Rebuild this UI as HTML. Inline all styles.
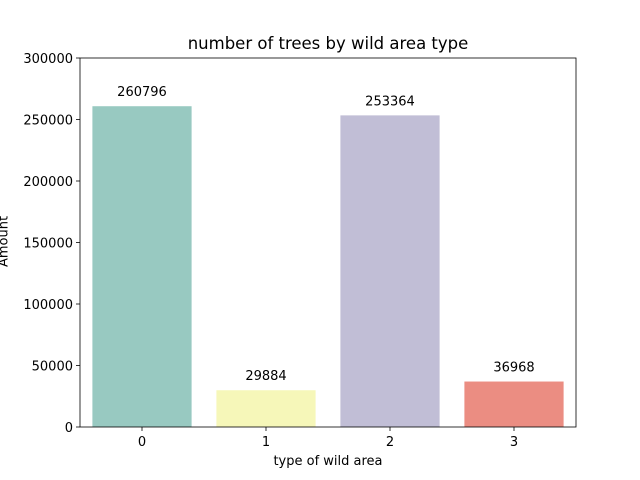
<!DOCTYPE html>
<html><head><meta charset="utf-8"><style>body{margin:0;background:#fff}svg{display:block;font-family:"DejaVu Sans","Liberation Sans",sans-serif}</style></head>
<body>
<svg id="c" width="640" height="480"></svg>
<script>
const categories = ["0","1","2","3"];
const values = [260796, 29884, 253364, 36968];
const yTicks = [0,50000,100000,150000,200000,250000,300000];
const colors = ["#98c9c1","#f6f7b9","#c1bed6","#eb8d82"];
const L=80,R=576,T=58,B=427,yMax=300000;
const x=i=>L+(i+0.5)*(R-L)/categories.length;
const y=v=>B-v/yMax*(B-T);
const s=document.getElementById('c');const NS="http://www.w3.org/2000/svg";
function mk(t,a,txt){const e=document.createElementNS(NS,t);for(const k in a)e.setAttribute(k,a[k]);if(txt!==undefined)e.textContent=txt;s.appendChild(e);return e;}
const bw=(R-L)/categories.length*0.8;
values.forEach((v,i)=>{
 const r=mk('rect',{x:x(i)-bw/2,y:y(v),width:bw,height:B-y(v),fill:colors[i]});
 
 
 const t=mk('text',{x:x(i),y:y(v)-10,'text-anchor':'middle','font-size':13},String(v));
 
 
 mk('line',{x1:x(i),x2:x(i),y1:B,y2:B+4,stroke:'#000','stroke-width':0.8});
 const xt=mk('text',{x:x(i),y:B+19,'text-anchor':'middle','font-size':13},categories[i]);
 
 
});
yTicks.forEach(v=>{
 mk('line',{x1:L-4,x2:L,y1:y(v),y2:y(v),stroke:'#000','stroke-width':0.8});
 const t=mk('text',{x:L-7,y:y(v)+5,'text-anchor':'end','font-size':13},String(v));
 
 
});
const f=mk('rect',{x:L,y:T,width:R-L,height:B-T,fill:'none',stroke:'#000','stroke-width':0.8});


</script>
<div style="position:absolute;left:0;top:0;width:640px;height:480px;pointer-events:none;font-family:'DejaVu Sans','Liberation Sans',sans-serif">
<div style="position:absolute;left:80px;width:496px;top:34px;text-align:center;font-size:16.5px">number of trees by wild area type</div>
<div style="position:absolute;left:80px;width:496px;top:454px;text-align:center;font-size:13px">type of wild area</div>
<div style="position:absolute;left:-26px;top:234px;width:60px;text-align:center;font-size:13px;transform:rotate(-90deg)">Amount</div>
</div>
</body></html>
